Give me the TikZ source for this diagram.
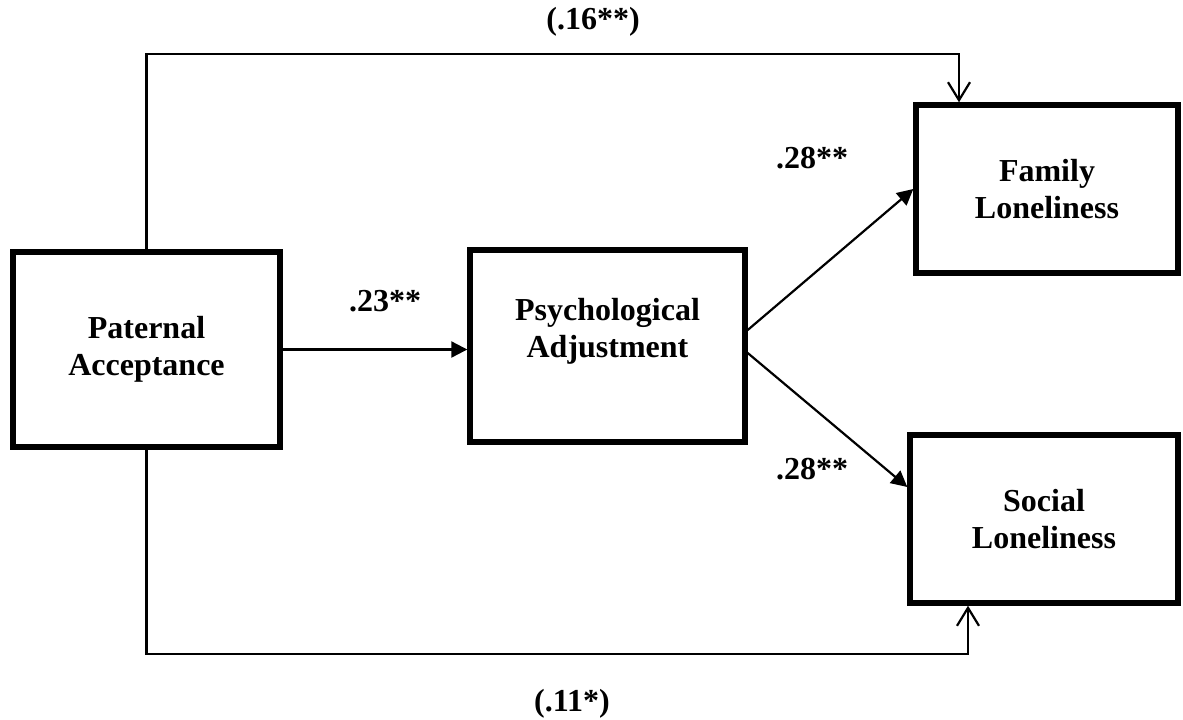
\documentclass[tikz,border=0pt]{standalone}
\usepackage{fontspec}
\setmainfont{Liberation Serif}
\usetikzlibrary{arrows.meta,calc}
\begin{document}
\begin{tikzpicture}[x=0.5pt,y=-0.5pt,
  box/.style={draw,line width=2.7pt,inner sep=0pt,align=center,font=\bfseries\fontsize{16}{18.5}\selectfont},
  lbl/.style={font=\bfseries\fontsize{16}{18.5}\selectfont},
  conn/.style={line width=1.1pt},
  solid tip/.style={-{Triangle[length=8pt,width=8pt]}},
  open tip/.style={-{Straight Barb[length=9pt,width=11pt,line width=1.1pt]}}
]
\useasboundingbox (0,0) rectangle (1183,719);
\node[box,minimum width=133.5pt,minimum height=97.5pt] (pat) at (146.5,349.5) {Paternal\\Acceptance};
\node[box,minimum width=137.5pt,minimum height=96pt,
  label={[lbl,align=center,yshift=7.5pt]center:Psychological\\Adjustment}] (psy) at (607.5,346) {};
\node[box,minimum width=131pt,minimum height=84pt] (fam) at (1047,189) {Family\\Loneliness};
\node[box,minimum width=134pt,minimum height=84pt] (soc) at (1044,519) {Social\\Loneliness};
\coordinate (topc) at (959,54);
\coordinate (botc) at (968,654);
\draw[conn,solid tip] (pat.east) -- (psy.west |- pat.east);
\draw[conn,solid tip] ([yshift=8pt]psy.east) -- (fam.west);
\draw[conn,solid tip] ([yshift=-3.5pt]psy.east) -- ([yshift=16pt]soc.west);
\draw[conn,open tip] (pat.north) |- (topc) -- (fam.north west -| topc);
\draw[conn,open tip] (pat.south) |- (botc) -- (soc.south west -| botc);
\node[lbl] (l1) at (593,22) {(.16**)};
\node[lbl] (l2) at (572,704) {(.11*)};
\node[lbl] (l3) at (385,301) {.23**};
\node[lbl] (l4) at (812,158) {.28**};
\node[lbl] (l5) at (812,469) {.28**};
\end{tikzpicture}
\end{document}
